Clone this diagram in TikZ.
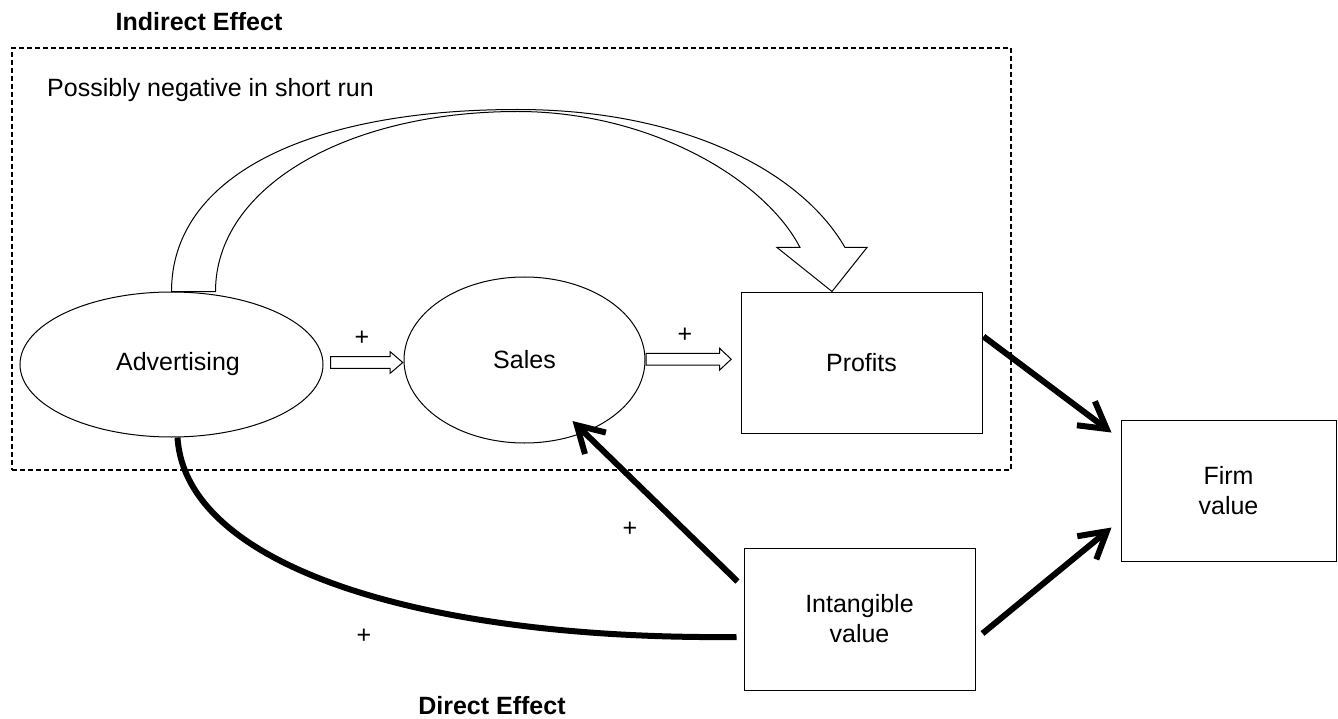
\documentclass[tikz,border=0pt]{standalone}
\usepackage{fontspec}
\setmainfont{Liberation Sans}
\usetikzlibrary{shapes.geometric,arrows.meta,calc}
\begin{document}
\begin{tikzpicture}[x=1pt,y=-1pt,
  font=\fontsize{25}{30}\selectfont,
  every node/.style={inner sep=0pt},
  oval/.style={draw, ellipse, line width=1pt},
  box/.style={draw, rectangle, line width=1pt, align=center},
  thickarrow/.style={line width=6pt, -{Straight Barb[length=26pt,width=30pt]}},
  thickcurve/.style={line width=6pt},
  blockarrow/.style={draw, fill=white, line width=1pt, line join=miter},
  frame/.style={draw, line width=1.3pt, dash pattern=on 5pt off 3pt},
  title/.style={font=\fontsize{25}{30}\selectfont\bfseries}]
\useasboundingbox (0,0) rectangle (1338,719);

% dashed frame of the indirect effect
\node[frame, minimum width=999pt, minimum height=422pt] (frame) at (511.5,259) {};

% nodes
\node[oval, minimum width=303pt, minimum height=145pt] (adv) at (171.5,364.5) {\hspace*{13pt}Advertising};
\node[oval, minimum width=241pt, minimum height=166pt] (sales) at (524.5,360) {Sales};
\node[box, minimum width=241pt, minimum height=141pt] (prof) at (861.5,362.5) {Profits};
\node[box, minimum width=215pt, minimum height=141pt] (firm) at (1228.5,490.5) {Firm\\value};
\node[box, minimum width=231pt, minimum height=142pt] (intang) at (859.5,619) {Intangible\\value};

% labels
\node[title, anchor=base] (ind) at (199,31) {Indirect Effect};
\node[title, anchor=base] (dir) at (492,714) {Direct Effect};
\node[anchor=base west] (neg) at (47,97) {Possibly negative in short run};
\node (p1) at (362,338) {+};
\node (p2) at (685,335) {+};
\node (p3) at (630,529) {+};
\node (p4) at (364,636) {+};

% big hollow curved arrow Advertising -> Profits
\coordinate (bo) at (adv.north);
\coordinate (bt) at ($(prof.north)+(-29.5,0)$);
\draw[blockarrow] (bo) .. controls +(0,-115) and +(-210,0) .. ($(bo)+(346,-182)$)
  .. controls +(163,0) and +(-45,-78) .. ($(bt)+(13,-44)$)
  -- ++(22,0) -- (bt) -- ($(bt)+(-55,-44)$) -- ++(23,0)
  .. controls +(-35,-68) and +(133,0) .. ($(bo)+(346,-180)$)
  .. controls +(-170,0) and +(0,-105) .. ($(bo)+(44,0)$) -- cycle;

% small hollow arrows
\coordinate (a1s) at ($(adv.east)+(7,-2)$);
\coordinate (a1e) at ($(a1s -| sales.west)+(-0.7,0)$);
\draw[blockarrow] let \p1=(a1s), \p2=(a1e) in
  (\x1,\y1+5.8pt) -- (\x2-12.6pt,\y1+5.8pt) -- (\x2-12.6pt,\y1+10.8pt) -- (\x2,\y1)
  -- (\x2-12.6pt,\y1-10.8pt) -- (\x2-12.6pt,\y1-5.8pt) -- (\x1,\y1-5.8pt) -- cycle;
\coordinate (a2s) at ($(sales.east)+(0.5,-0.8)$);
\coordinate (a2e) at ($(a2s -| prof.west)+(-9.3,0)$);
\draw[blockarrow] let \p1=(a2s), \p2=(a2e) in
  (\x1,\y1+5.8pt) -- (\x2-11.7pt,\y1+5.8pt) -- (\x2-11.7pt,\y1+11pt) -- (\x2,\y1)
  -- (\x2-11.7pt,\y1-11pt) -- (\x2-11.7pt,\y1-5.8pt) -- (\x1,\y1-5.8pt) -- cycle;

% thick black connectors
\draw[thickarrow] ($(prof.north east)+(1,45)$) -- ($(firm.north west)+(-9,13)$);
\draw[thickarrow] ($(intang.south east)+(7,-57)$) -- ($(firm.south west)+(-9,-34)$);
\draw[thickarrow] ($(intang.north west)+(-6,34)$) -- ($(sales.center)+(48,61)$);
\draw[thickcurve] ($(adv.south)+(6,0)$) .. controls +(8,128) and +(-317,3) .. ($(intang.west)+(-7,18)$);
\end{tikzpicture}
\end{document}
